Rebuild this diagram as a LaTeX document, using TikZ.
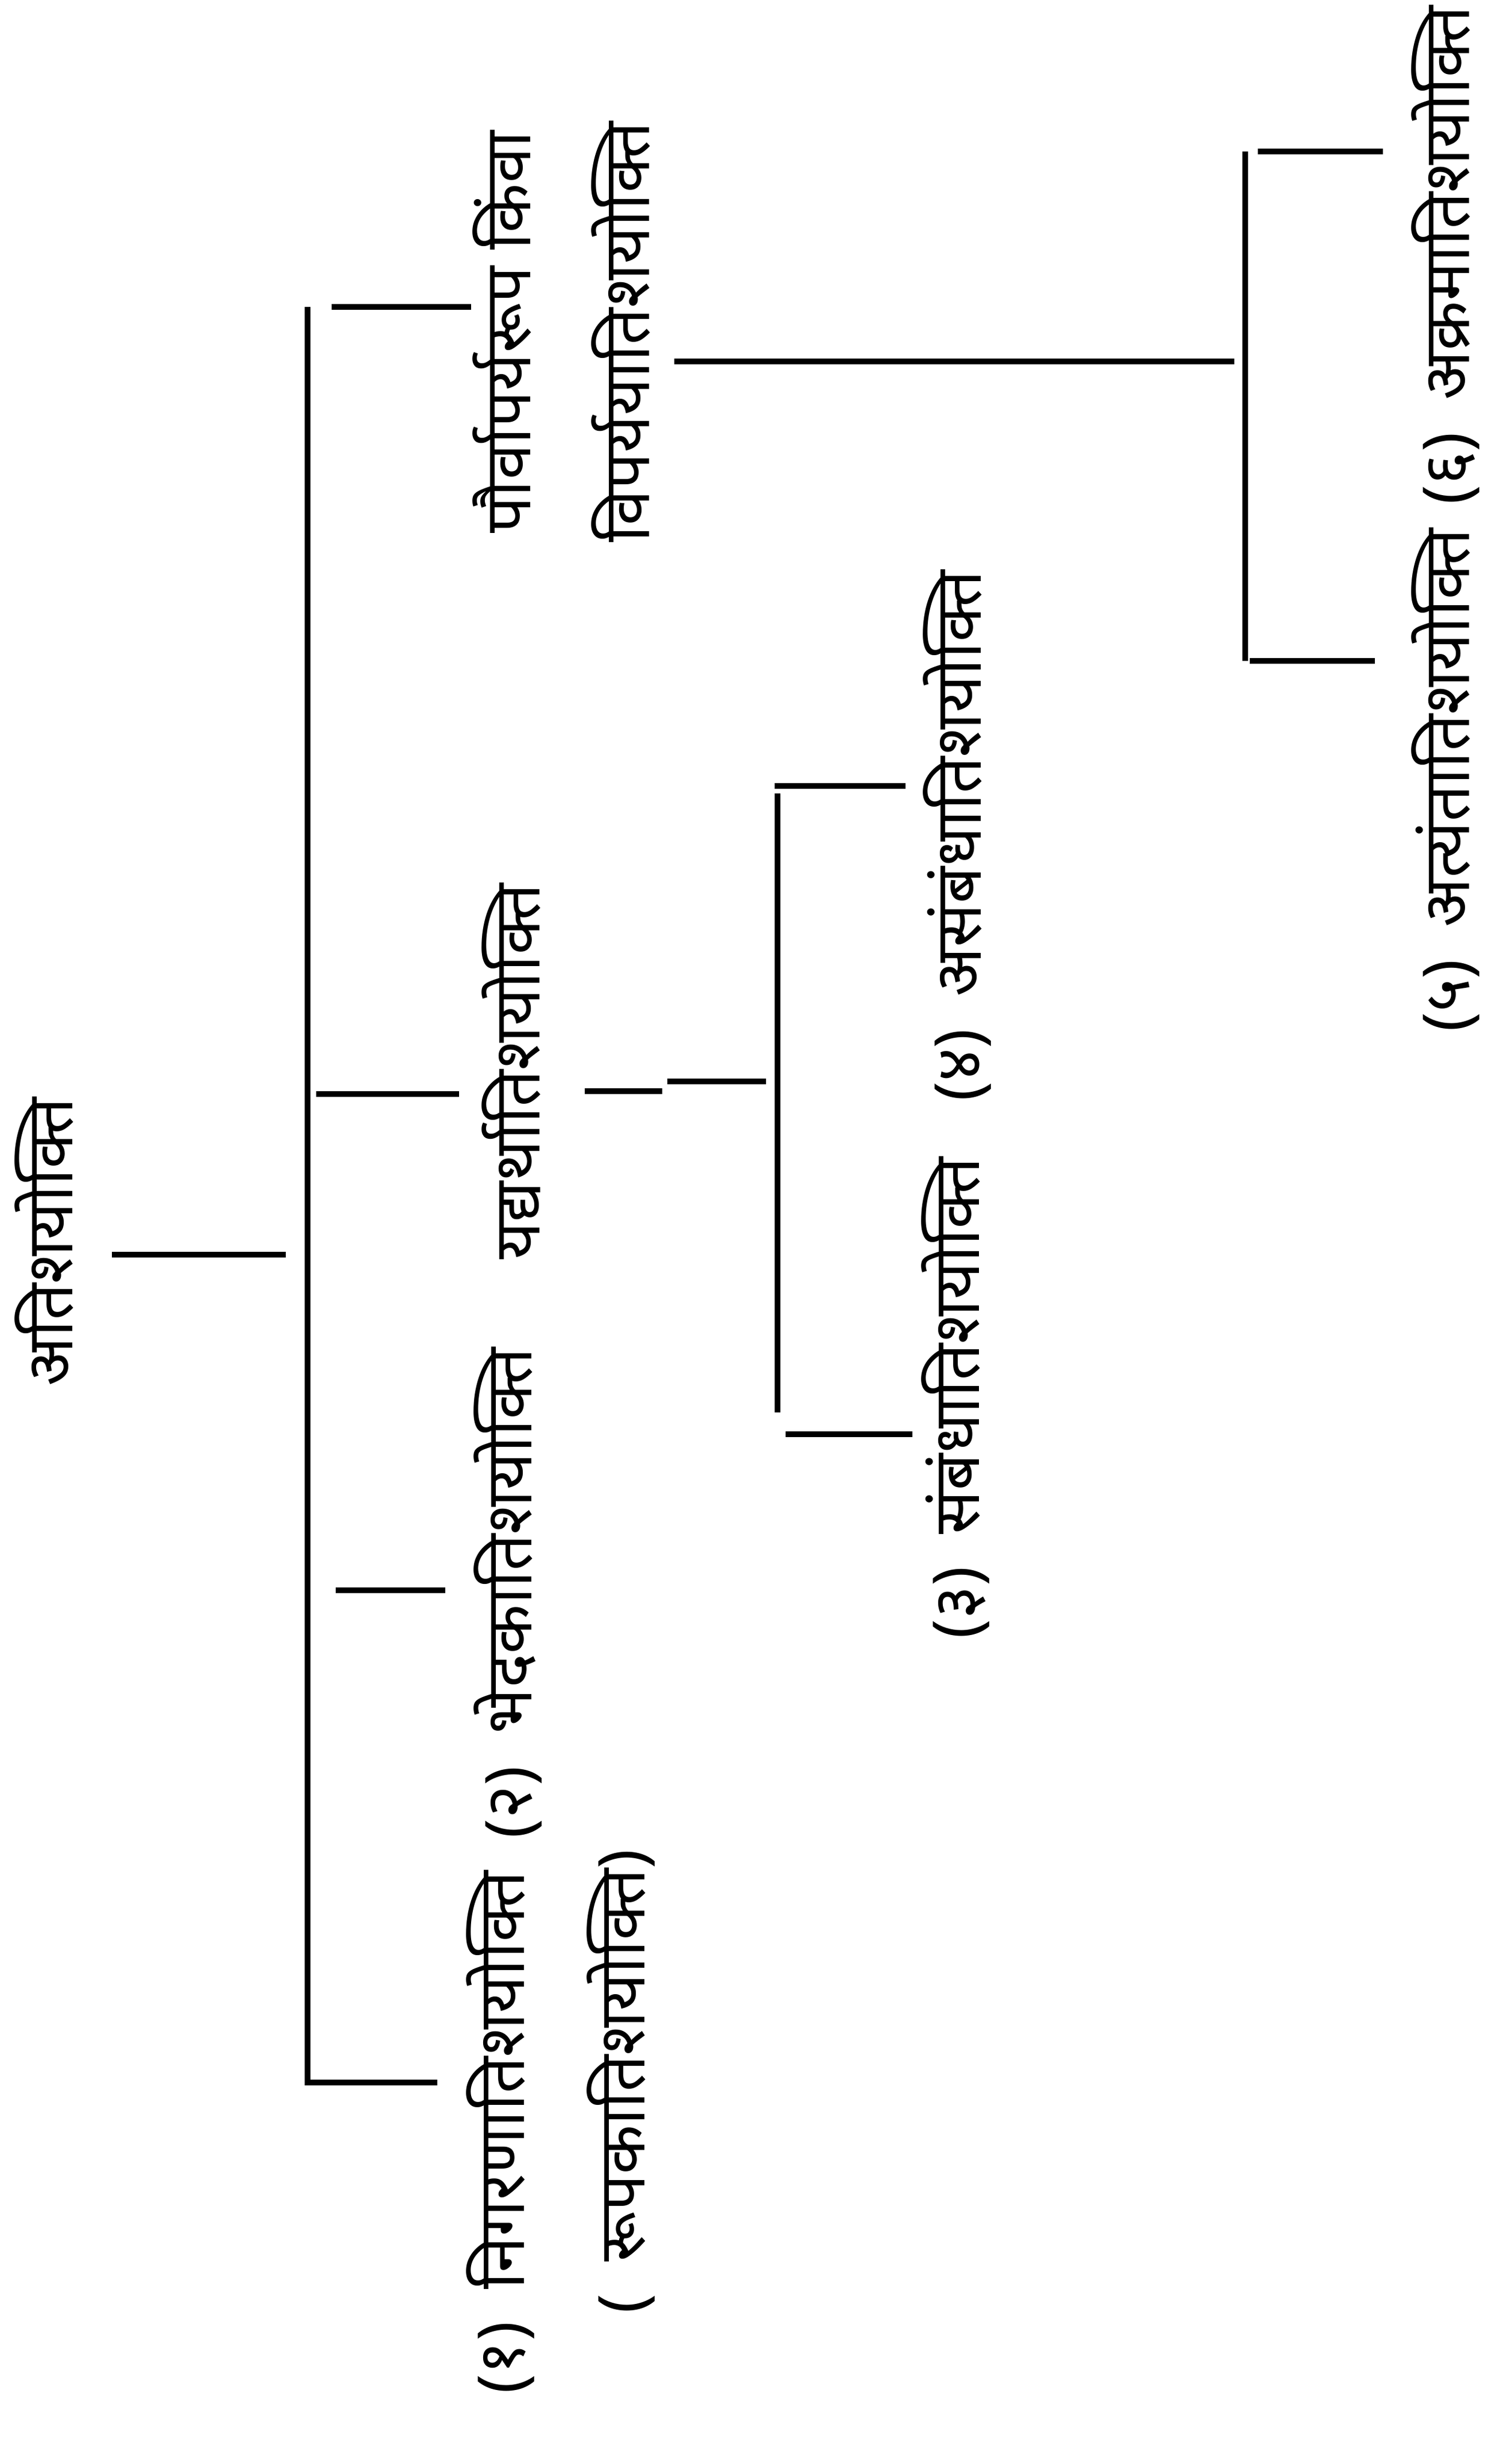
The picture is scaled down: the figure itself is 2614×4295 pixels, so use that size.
\documentclass[tikz,border=0pt]{standalone}
\usepackage{fontspec}
\newfontfamily\deva[Script=Devanagari]{Noto Sans}
\usetikzlibrary{positioning}

\begin{document}
\begin{tikzpicture}[x=0.01cm,y=-0.01cm,
  lbl/.style={font=\deva\fontsize{32}{40}\selectfont, rotate=90, inner sep=0pt},
  tree/.style={line width=2.6pt}]

\useasboundingbox (0,0) rectangle (2614,4295);

% labels
\node[lbl] (root) at (77,2165) {अतिशयोक्ति};
\node[lbl] (nig) at (872,3717) {(१)\enspace निगरणातिशयोक्ति};
\node[lbl] (rup) at (1082,3628) {(\enspace रूपकातिशयोक्ति)};
\node[lbl] (bhed) at (885,2777) {(२)\enspace भेदकातिशयोक्ति};
\node[lbl] (yad) at (891,1868) {यद्यर्थातिशयोक्ति};
\node[lbl] (paur) at (875,579) {पौर्वापर्यरूप किंवा};
\node[lbl] (vip) at (1082,579) {विपर्ययातिशयोक्ति};
\node[lbl] (sam) at (1665,2437) {(३)\enspace संबंधातिशयोक्ति};
\node[lbl] (asam) at (1668,1457) {(४)\enspace असंबंधातिशयोक्ति};
\node[lbl] (aty) at (2519,1360) {(५)\enspace अत्यंतातिशयोक्ति};
\node[lbl] (akr) at (2519,445) {(६)\enspace अक्रमातिशयोक्ति};

% horizontal lines
\foreach \n/\a/\b/\y in {rt/195/498/2187, t1/578/821/535, t2/551/800/1907,
  t3/585/776/2772, t4/531/762/3630, ya/1019/1154/1902, yb/1163/1335/1885,
  pa/1175/2151/630, s1/1350/1578/1370, s2/1369/1590/2500,
  u1/2192/2410/264, u2/2178/2396/1152}
{
  \coordinate (\n-l) at (\a,\y);
  \coordinate (\n-r) at (\b,\y);
  \draw[tree] (\n-l) -- (\n-r);
}

% vertical lines
\foreach \n/\x/\a/\b in {v1/536/535/3630, v2/1355/1383/2462, v3/2170/264/1152}
{
  \coordinate (\n-t) at (\x,\a);
  \coordinate (\n-b) at (\x,\b);
  \draw[tree] (\n-t) -- (\n-b);
}

\end{tikzpicture}
\end{document}
